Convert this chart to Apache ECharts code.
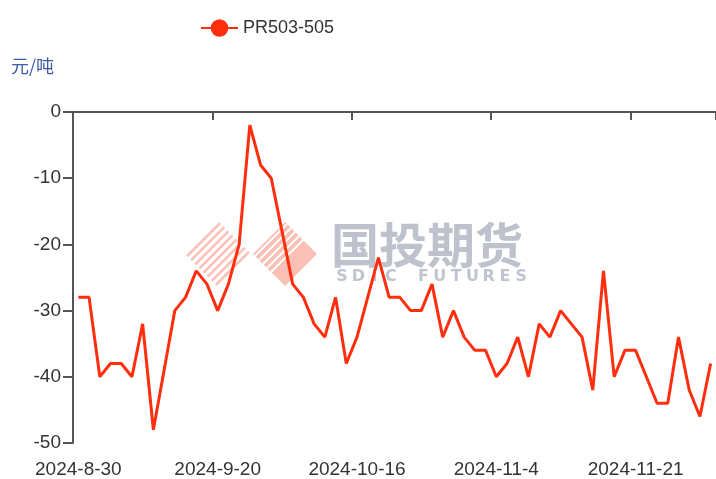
<!DOCTYPE html>
<html><head><meta charset="utf-8">
<script src="https://cdn.jsdelivr.net/npm/echarts@6/dist/echarts.min.js"></script>
<style>html,body{margin:0;padding:0;background:#fff}#c{width:716px;height:479px}</style>
</head><body><div id="c"></div>
<script>
const categories = [
  '2024-8-30','2024-9-2','2024-9-3','2024-9-4','2024-9-5','2024-9-6','2024-9-9','2024-9-10','2024-9-11','2024-9-12',
  '2024-9-13','2024-9-18','2024-9-19','2024-9-20','2024-9-23','2024-9-24','2024-9-25','2024-9-26','2024-9-27','2024-9-30',
  '2024-10-8','2024-10-9','2024-10-10','2024-10-11','2024-10-14','2024-10-15','2024-10-16','2024-10-17','2024-10-18','2024-10-21',
  '2024-10-22','2024-10-23','2024-10-24','2024-10-25','2024-10-28','2024-10-29','2024-10-30','2024-10-31','2024-11-1','2024-11-4',
  '2024-11-5','2024-11-6','2024-11-7','2024-11-8','2024-11-11','2024-11-12','2024-11-13','2024-11-14','2024-11-15','2024-11-18',
  '2024-11-19','2024-11-20','2024-11-21','2024-11-22','2024-11-25','2024-11-26','2024-11-27','2024-11-28','2024-11-29','2024-12-2'
];
const seriesName = 'PR503-505';
const values = [
  -28,-28,-40,-38,-38,-40,-32,-48,-39,-30,
  -28,-24,-26,-30,-26,-20,-2,-8,-10,-18,
  -26,-28,-32,-34,-28,-38,-34,-28,-22,-28,
  -28,-30,-30,-26,-34,-30,-34,-36,-36,-40,
  -38,-34,-40,-32,-34,-30,-32,-34,-42,-24,
  -40,-36,-36,-40,-44,-44,-34,-42,-46,-38
];
const yTicks = [0, -10, -20, -30, -40, -50];
const yUnit = '元/吨';
const labelEvery = 13;

const chart = echarts.init(document.getElementById('c'), null, {renderer: 'canvas'});

// watermark (decorative logo)
const wm = [];
(function(){
  const pink = 'rgba(248,140,120,0.55)';
  const sc = {x: 218, y: 254, h: 33};   // striped diamond
  const sd = {x: 285, y: 254, h: 32};   // solid diamond
  function stripes(c, ts, color, w, z) {
    const L = [c.x - c.h, c.y], T = [c.x, c.y - c.h], R = [c.x + c.h, c.y], B = [c.x, c.y + c.h];
    ts.forEach(function(t){
      wm.push({type:'line', z:z, silent:true, shape:{x1:L[0]+t*(B[0]-L[0]), y1:L[1]+t*(B[1]-L[1]), x2:T[0]+t*(R[0]-T[0]), y2:T[1]+t*(R[1]-T[1])}, style:{stroke:color, lineWidth:w}});
    });
  }
  const n = 8, ts = [];
  for (let k = 0; k < n; k++) ts.push((k + 0.5) / n);
  stripes(sc, ts, pink, 2.6, 0);
  wm.push({type:'polygon', z:1, silent:true, shape:{points:[[sd.x-sd.h,sd.y],[sd.x,sd.y-sd.h],[sd.x+sd.h,sd.y],[sd.x,sd.y+sd.h]]}, style:{fill:pink}});
  const tw = [];
  for (let k = 0; k < 5; k++) tw.push((k + 0.5) / n);
  stripes(sd, tw, '#fff', 2, 2);
  wm.push({type:'text', z:2, silent:true, left:331, top:221, style:{text:'国投期货', font:'bold 48px "Noto Sans CJK SC"', fill:'rgba(165,170,186,0.72)'}});
  const s = 'SDIC FUTURES';
  for (let i = 0; i < s.length; i++) {
    wm.push({type:'text', z:2, silent:true, x:342 + i*16.3, y:277, style:{text:s[i], font:'bold 16px "DejaVu Sans"', fill:'rgba(168,173,188,0.72)', align:'center', verticalAlign:'middle'}});
  }
})();

chart.setOption({
  animation: false,
  backgroundColor: '#fff',
  legend: {
    left: 195, top: 14,
    itemWidth: 37, itemHeight: 22, itemGap: 10,
    textStyle: {fontSize: 18, color: '#333', fontFamily: 'Liberation Sans, Arial, sans-serif'},
    data: [seriesName]
  },
  grid: {left: 73, right: 0, top: 112, bottom: 36, containLabel: false},
  xAxis: [
    {
      type: 'category', data: categories, position: 'bottom', boundaryGap: true,
      axisLine: {show: false, onZero: false},
      axisTick: {show: false},
      axisLabel: {interval: labelEvery - 1, margin: 17, fontSize: 19, color: '#333', fontFamily: 'Liberation Sans, Arial, sans-serif'},
      splitLine: {show: false}
    },
    {
      type: 'category', data: categories, position: 'top', boundaryGap: true,
      axisLine: {show: true, onZero: false, lineStyle: {color: '#555', width: 2}},
      axisTick: {show: true, inside: true, length: 8, interval: labelEvery - 1, lineStyle: {color: '#555', width: 2}},
      axisLabel: {show: false},
      splitLine: {show: false}
    }
  ],
  yAxis: {
    type: 'value', min: yTicks[yTicks.length-1], max: yTicks[0], interval: 10,
    name: yUnit, nameLocation: 'end', nameGap: 46,
    nameTextStyle: {fontSize: 18, color: '#3f5ca8', fontFamily: '"Noto Sans CJK SC", sans-serif', align: 'center', verticalAlign: 'middle', padding: [0, 81, 0, 0]},
    axisLine: {show: true, lineStyle: {color: '#555', width: 2}},
    axisTick: {show: true, length: 10, lineStyle: {color: '#555', width: 2}},
    axisLabel: {margin: 12, fontSize: 19, color: '#333', fontFamily: 'Liberation Sans, Arial, sans-serif'},
    splitLine: {show: false}
  },
  graphic: {elements: wm},
  series: [{
    name: seriesName, type: 'line', data: values, xAxisIndex: 0,
    symbol: 'circle', showSymbol: false, symbolSize: 8,
    lineStyle: {color: '#ff2e0e', width: 3},
    itemStyle: {color: '#ff2e0e'},
    z: 5
  }]
});
</script>
</body></html>
